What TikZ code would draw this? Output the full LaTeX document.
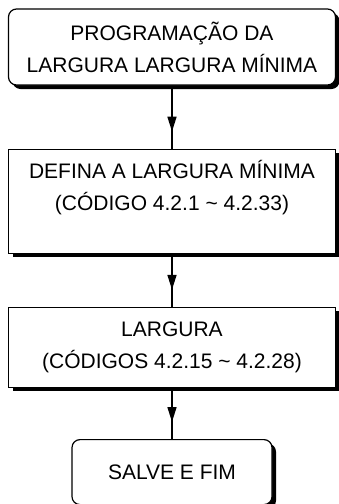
\documentclass[tikz,border=0pt]{standalone}
\usepackage{fontspec}
\setmainfont{Liberation Sans}
\usetikzlibrary{positioning,shadows,arrows.meta,decorations.markings}

\begin{document}
\begin{tikzpicture}[
  x=1pt, y=1pt,
  box/.style={rectangle, draw, line width=1.2pt, fill=white,
              minimum width=327pt, align=center,
              font=\fontsize{21}{32}\selectfont,
              drop shadow={shadow xshift=4pt, shadow yshift=-4pt,
                           fill=black, opacity=1}},
  term/.style={box, rounded corners=8pt},
  flow/.style={line width=1.6pt, postaction={decorate},
               decoration={markings,
                 mark=at position -17pt with {\arrow{Triangle[length=15pt,width=9pt]}}}}
]
\useasboundingbox (0,0) rectangle (339,-504);

\node[term, minimum height=76pt] (start) at (172,-47)
  {PROGRAMAÇÃO DA\\LARGURA LARGURA MÍNIMA};
\node[box, minimum height=104pt, below=63pt of start] (define)
  {DEFINA A LARGURA MÍNIMA\\(CÓDIGO 4.2.1 \textasciitilde{} 4.2.33)\\\mbox{}};
\node[box, minimum height=80pt, below=53pt of define] (width)
  {LARGURA\\(CÓDIGOS 4.2.15 \textasciitilde{} 4.2.28)};
\node[term, minimum width=200pt, minimum height=65pt, below=51pt of width] (save)
  {SALVE E FIM};

\draw[flow] (start) -- (define);
\draw[flow] (define) -- (width);
\draw[flow] (width) -- (save);
\end{tikzpicture}
\end{document}
